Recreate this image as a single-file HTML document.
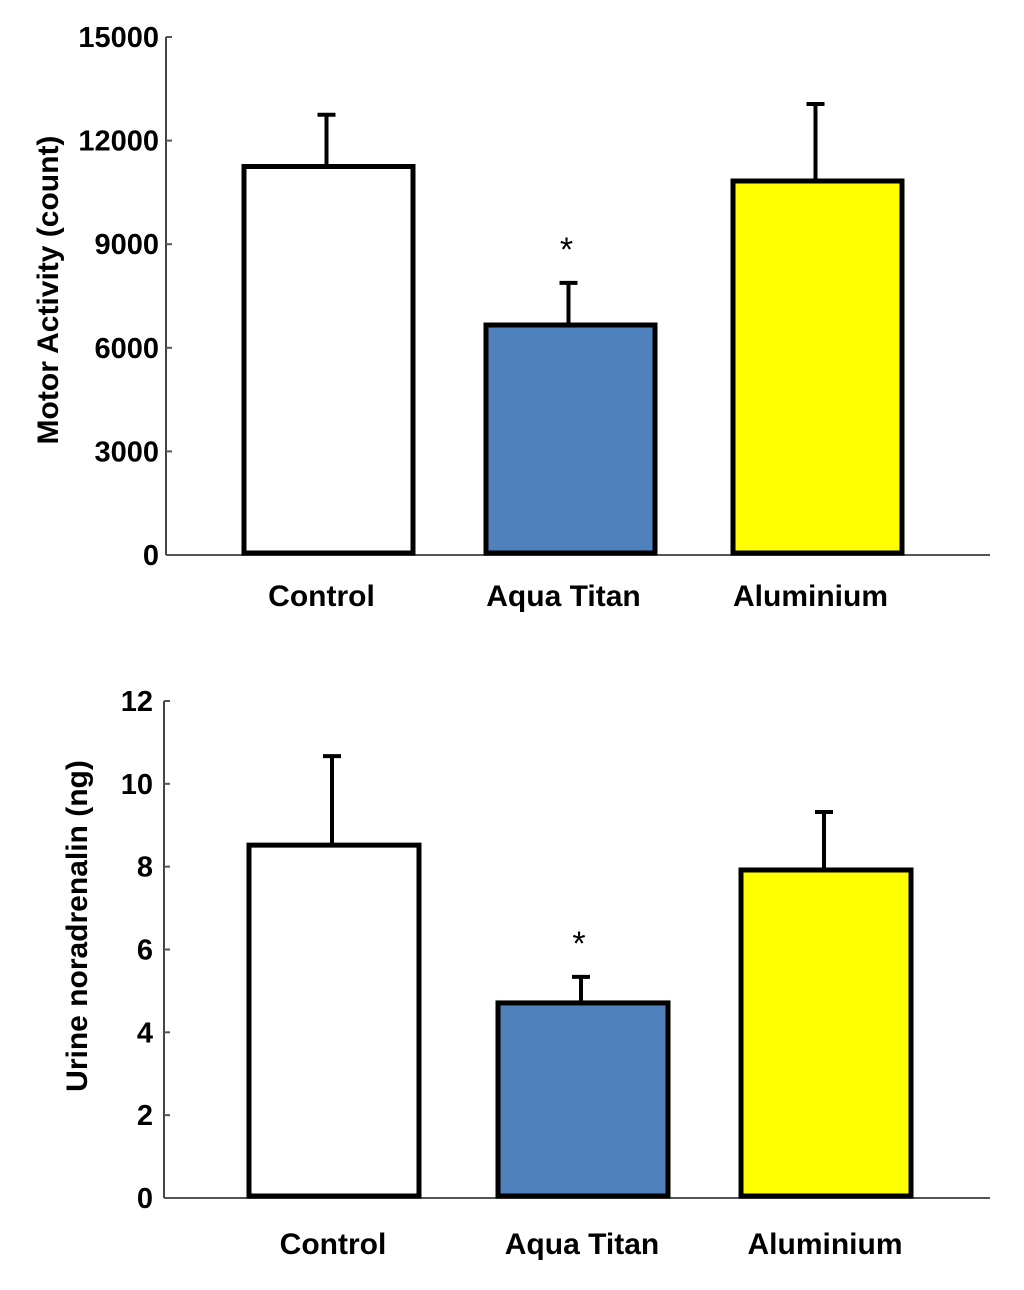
<!DOCTYPE html>
<html><head><meta charset="utf-8"><style>
html,body{margin:0;padding:0;background:#fff;}
svg{display:block;font-family:"Liberation Sans",Arial,sans-serif;font-weight:bold;}
</style></head><body>
<svg id="svg" width="1024" height="1290" viewBox="0 0 1024 1290" xmlns="http://www.w3.org/2000/svg"></svg>
<script>
const categories = ["Control", "Aqua Titan", "Aluminium"];
const colors = ["#ffffff", "#4f81bd", "#ffff00"];
const motorValues = [11250, 6660, 10830];
const motorErrors = [1500, 1220, 2230];
const motorTicks = [0, 3000, 6000, 9000, 12000, 15000];
const noraValues = [8.52, 4.71, 7.92];
const noraErrors = [2.15, 0.63, 1.40];
const noraTicks = [0, 2, 4, 6, 8, 10, 12];
const motorSig = [false, true, false];
const noraSig = [false, true, false];

const NS = "http://www.w3.org/2000/svg";
const svg = document.getElementById('svg');
function mk(tag, attrs, parent, text) {
  const e = document.createElementNS(NS, tag);
  for (const k in attrs) e.setAttribute(k, attrs[k]);
  if (text !== undefined) e.textContent = text;
  parent.appendChild(e);
  return e;
}
function chart(cfg) {
  const g = mk('g', {}, svg);
  
  
  const y = v => cfg.y0 - (v - cfg.min) / (cfg.max - cfg.min) * (cfg.y0 - cfg.yTop);
  const ax = mk('line', {x1: cfg.axX, y1: cfg.yTop, x2: cfg.axX, y2: cfg.y0, stroke: '#444', 'stroke-width': 2}, g);
  
  
  const xa = mk('line', {x1: cfg.axX, y1: cfg.y0, x2: 990, y2: cfg.y0, stroke: '#555', 'stroke-width': 2}, g);
  
  
  cfg.ticks.forEach(t => {
    const tk = mk('line', {x1: cfg.axX, y1: y(t), x2: cfg.axX + 6, y2: y(t), stroke: '#555', 'stroke-width': 2}, g);
    
    
    const tl = mk('text', {x: cfg.tickX, y: y(t) + 10, 'text-anchor': 'end', 'font-size': 29}, g, String(t));
    
    
  });
  const tt = mk('text', {x: 0, y: 0, 'text-anchor': 'middle', 'font-size': 30, transform: `translate(${cfg.titleX},${cfg.titleY}) rotate(-90)`}, g, cfg.title);
  
  
  categories.forEach((c, i) => {
    const bx = cfg.barX[i], bw = cfg.barW;
    const cx = bx + bw / 2;
    const top = y(cfg.values[i]), et = y(cfg.values[i] + cfg.errors[i]);
    const el = mk('line', {x1: cx - 2, y1: top, x2: cx - 2, y2: et, stroke: '#000', 'stroke-width': 4}, g);
    
    
    const ec = mk('line', {x1: cx - 11, y1: et, x2: cx + 7, y2: et, stroke: '#000', 'stroke-width': 4}, g);
    
    
    const r = mk('rect', {x: bx, y: top, width: bw, height: cfg.y0 - 2 - top, fill: colors[i], stroke: '#000', 'stroke-width': 5}, g);
    
    
    const lb = mk('text', {x: cx + cfg.labelDx, y: cfg.labelY, 'text-anchor': 'middle', 'font-size': 30}, g, c);
    
    
    if (cfg.sig[i]) {
      const s = mk('text', {x: cx - 4, y: et - 22, 'text-anchor': 'middle', 'font-size': 34, 'font-weight': 'normal'}, g, '*');
      
      
    }
  });
}
chart({name: 'motor-activity-chart', axX: 166, yTop: 37, y0: 555, min: 0, max: 15000, ticks: motorTicks,
  values: motorValues, errors: motorErrors, sig: motorSig, barX: [244, 486, 733], barW: 169,
  labelY: 606, labelDx: -7, tickX: 159, title: 'Motor Activity (count)', titleX: 58, titleY: 290});
chart({name: 'urine-noradrenalin-chart', axX: 164, yTop: 701, y0: 1198, min: 0, max: 12, ticks: noraTicks,
  values: noraValues, errors: noraErrors, sig: noraSig, barX: [249, 498, 741], barW: 170,
  labelY: 1254, labelDx: -1, tickX: 153, title: 'Urine noradrenalin (ng)', titleX: 87, titleY: 926});
</script>
</body></html>
